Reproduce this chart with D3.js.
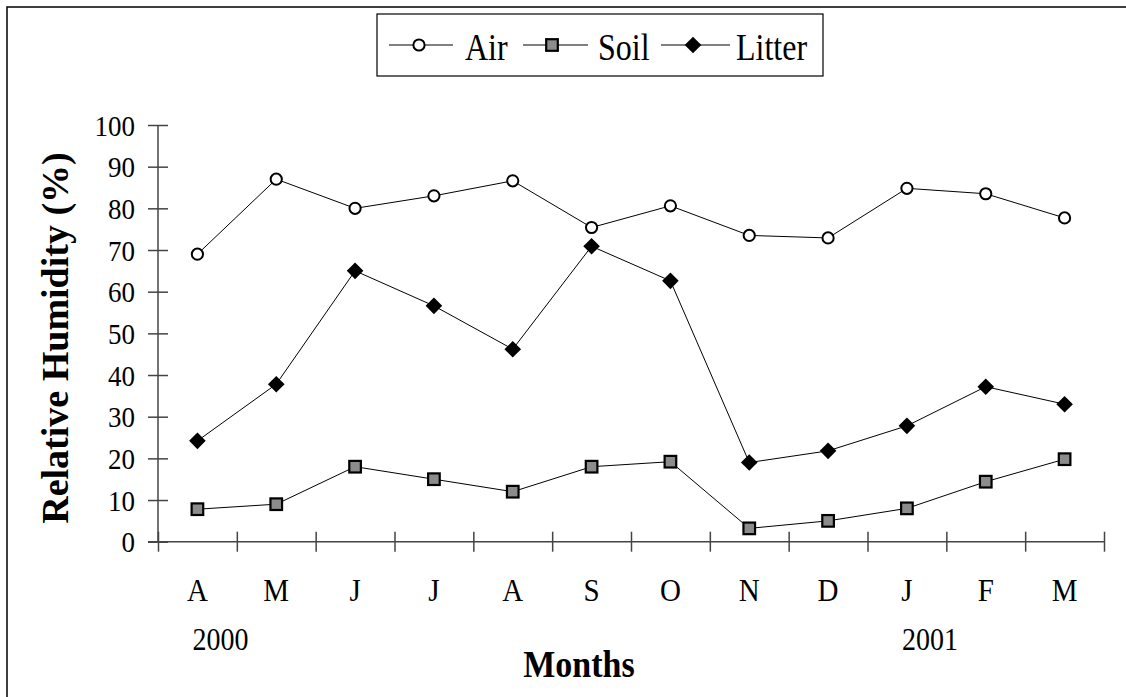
<!DOCTYPE html>
<html>
<head>
<meta charset="utf-8">
<script src="https://cdn.jsdelivr.net/npm/d3@7"></script>
<style>
  html, body { margin: 0; padding: 0; background: #fff; }
  svg { display: block; }
</style>
</head>
<body>
<svg id="chart" width="1126" height="697"></svg>
<script>
// Monthly relative humidity, April 2000 – March 2001
const monthLabels = ["A", "M", "J", "J", "A", "S", "O", "N", "D", "J", "F", "M"];
const yearLabels = [{ label: "2000", month: 0 }, { label: "2001", month: 9 }];
const yTicks = [0, 10, 20, 30, 40, 50, 60, 70, 80, 90, 100];

const airValues    = [69, 87, 80, 83, 86.6, 75.4, 80.6, 73.5, 72.9, 84.8, 83.5, 77.7];
const soilValues   = [7.8, 9, 18, 15, 12, 18, 19.2, 3.2, 5, 8, 14.4, 19.8];
const litterValues = [24.2, 37.8, 65, 56.6, 46.2, 70.9, 62.6, 19, 21.8, 27.8, 37.2, 33];

const series = [
  { name: "Air",    values: airValues,    marker: "circle" },
  { name: "Soil",   values: soilValues,   marker: "square" },
  { name: "Litter", values: litterValues, marker: "diamond" }
];

const FONT = "Liberation Serif";
const svg = d3.select("#chart");

// outer frame (runs past the right and bottom edges)
svg.append("rect")
  .attr("x", 7).attr("y", 7).attr("width", 1140).attr("height", 710)
  .attr("fill", "none").attr("stroke", "#000").attr("stroke-width", 1.5);

const plot = { left: 158, right: 1104, top: 125, bottom: 541.7 };

const x = d3.scaleBand().domain(d3.range(monthLabels.length)).range([plot.left, plot.right]).padding(0);
const xEdge = d3.scaleLinear().domain([0, monthLabels.length]).range([plot.left, plot.right]);
const y = d3.scaleLinear().domain([0, 100]).range([plot.bottom, plot.top]);
const cx = i => x(i) + x.bandwidth() / 2;

// text helper with a slight vertical stretch
function label(parent, px, py, str, opts) {
  const g = parent.append("g").attr("transform", `translate(${px},${py}) scale(1,${opts.sy || 1})`);
  g.append("text")
    .attr("text-anchor", opts.anchor || "middle")
    .style("font-family", FONT)
    .style("font-size", opts.size + "px")
    .style("font-weight", opts.weight || "normal")
    .style("fill", "#000")
    .text(str);
  return g;
}

// y axis
const yAxis = svg.append("g")
  .attr("transform", `translate(${plot.left},0)`)
  .call(d3.axisLeft(y).tickValues(yTicks).tickSize(10).tickPadding(0).tickFormat(d3.format("d")));
yAxis.select(".domain").attr("stroke", "#444").attr("stroke-width", 1.5).attr("d", `M0,${plot.top}V${plot.bottom}`);
yAxis.selectAll(".tick line").attr("x1", -10).attr("x2", 10).attr("stroke", "#444").attr("stroke-width", 1.5);
yAxis.selectAll(".tick text")
  .attr("x", -23).attr("dy", "0.34em")
  .style("font-family", FONT).style("font-size", "27px").style("fill", "#000")
  .attr("transform", "scale(1,1.1)");

// x axis with ticks on month boundaries
const xAxis = svg.append("g")
  .attr("transform", `translate(0,${plot.bottom})`)
  .call(d3.axisBottom(xEdge).tickValues(d3.range(monthLabels.length + 1)).tickSize(10).tickFormat(""));
xAxis.select(".domain").attr("stroke", "#444").attr("stroke-width", 1.5).attr("d", `M${plot.left - 10},0H${plot.right}`);
xAxis.selectAll(".tick line").attr("y1", -10).attr("y2", 10).attr("stroke", "#444").attr("stroke-width", 1.5);

// month and year labels
monthLabels.forEach((m, i) => label(svg, cx(i), 601, m, { size: 29, sy: 1.1 }));
yearLabels.forEach(d => label(svg, cx(d.month) + 23, 650, d.label, { size: 28, sy: 1.1 }));

// axis titles
label(svg, 579, 677, "Months", { size: 34, weight: "bold", sy: 1.12 });
svg.append("text")
  .attr("transform", `translate(68,338) rotate(-90)`)
  .attr("text-anchor", "middle")
  .style("font-family", FONT).style("font-size", "38px").style("font-weight", "bold").style("fill", "#000")
  .text("Relative Humidity (%)");

// markers
function drawMarker(g, type, px, py) {
  if (type === "circle") {
    g.append("circle").attr("cx", px).attr("cy", py).attr("r", 5.6)
      .attr("fill", "#fff").attr("stroke", "#000").attr("stroke-width", 2);
  } else if (type === "square") {
    g.append("rect").attr("x", px - 5.8).attr("y", py - 5.8).attr("width", 11.6).attr("height", 11.6)
      .attr("fill", "#8c8c8c").attr("stroke", "#000").attr("stroke-width", 2.2);
  } else {
    g.append("path").attr("d", `M${px},${py - 8.3}L${px + 8.3},${py}L${px},${py + 8.3}L${px - 8.3},${py}Z`)
      .attr("fill", "#000");
  }
}

const line = d3.line().x((d, i) => cx(i)).y(d => y(d));

series.forEach(s => {
  const g = svg.append("g").attr("class", "series");
  g.append("path").attr("d", line(s.values)).attr("fill", "none").attr("stroke", "#000").attr("stroke-width", 1);
  s.values.forEach((v, i) => drawMarker(g, s.marker, cx(i), y(v)));
});

// legend
const legend = svg.append("g");
legend.append("rect")
  .attr("x", 377).attr("y", 14).attr("width", 446).attr("height", 62)
  .attr("fill", "#fff").attr("stroke", "#000").attr("stroke-width", 1.2);
const legendItems = [
  { x0: 389, x1: 453, mx: 419, tx: 465 },
  { x0: 523, x1: 588, mx: 552, tx: 598 },
  { x0: 661, x1: 730, mx: 693, tx: 736 }
];
series.forEach((s, i) => {
  const it = legendItems[i];
  legend.append("line").attr("x1", it.x0).attr("x2", it.x1).attr("y1", 45).attr("y2", 45)
    .attr("stroke", "#000").attr("stroke-width", 1);
  drawMarker(legend, s.marker, it.mx, 45);
  label(legend, it.tx, 60, s.name, { size: 32, anchor: "start", sy: 1.2 });
});
</script>
</body>
</html>
